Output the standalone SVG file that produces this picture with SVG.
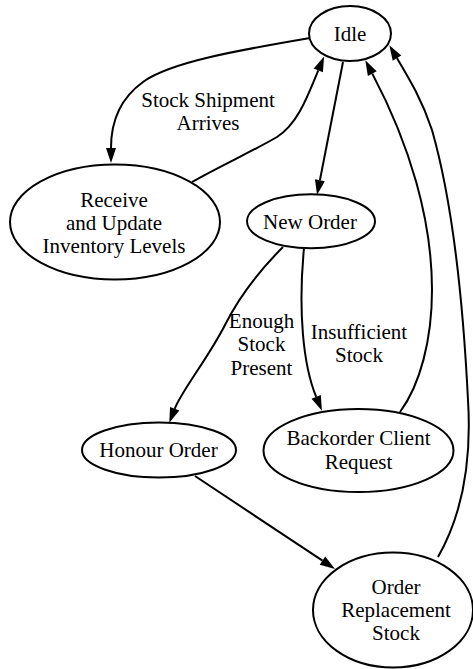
<svg xmlns="http://www.w3.org/2000/svg" width="473" height="669" viewBox="0 0 473 669">
  <defs>
    <marker id="arrow" markerUnits="userSpaceOnUse" markerWidth="16" markerHeight="12" refX="0" refY="5.5" orient="auto" overflow="visible">
      <path d="M0,0.5 L15,5.5 L0,10.5 Z" fill="#000"/>
    </marker>
    <style>
      .node ellipse { fill: #fff; stroke: #000; stroke-width: 2; }
      text { font-family: 'Liberation Serif', 'Times New Roman', serif; font-size: 21px; fill: #000; text-anchor: middle; }
      .edges path { fill: none; stroke: #000; stroke-width: 2; marker-end: url(#arrow); }
    </style>
  </defs>
  <rect width="473" height="669" fill="#fff"/>

  <g class="edges" id="edges">
    <!-- Idle -> Receive -->
    <path d="M310,38 C240,50 170,62 143,82 C118,100 111,125 111,148"/>
    <!-- Receive -> Idle -->
    <path d="M192,182 C220,166 255,150 277,137 C298,124 308,95 318.3,70.4"/>
    <!-- Idle -> New Order -->
    <path d="M343,62 L319.9,180.3"/>
    <!-- New Order -> Honour Order -->
    <path d="M283,247 C262,268 240,295 225,325 C207,360 182,390 174.7,408.8"/>
    <!-- New Order -> Backorder Client Request -->
    <path d="M304,248 C298,310 303,365 316.2,396.9"/>
    <!-- Backorder Client Request -> Idle -->
    <path d="M400,412 C420,385 432,340 432,290 C432,220 410,145 372.3,73.6"/>
    <!-- Honour Order -> Order Replacement Stock -->
    <path d="M195,476 L322.5,560.7"/>
    <!-- Order Replacement Stock -> Idle -->
    <path d="M438,557 C462,515 472,465 468,400 C463,300 452,200 432,130 C422,100 410,80 397,58.1"/>
  </g>

  <g id="edge-labels" font-family="Liberation Serif, serif">
    <text x="208" y="107">Stock Shipment</text>
    <text x="208" y="130">Arrives</text>
    <text x="261.5" y="328">Enough</text>
    <text x="261.5" y="351">Stock</text>
    <text x="261.5" y="375">Present</text>
    <text x="359" y="339">Insufficient</text>
    <text x="359" y="362">Stock</text>
  </g>

  <g class="node" id="idle" font-family="Liberation Serif, serif">
    <ellipse cx="350" cy="33.5" rx="41" ry="27.5"/>
    <text x="350" y="41">Idle</text>
  </g>
  <g class="node" id="receive" font-family="Liberation Serif, serif">
    <ellipse cx="115" cy="222" rx="105" ry="57.5"/>
    <text x="114" y="207">Receive</text>
    <text x="114" y="230">and Update</text>
    <text x="114" y="253">Inventory Levels</text>
  </g>
  <g class="node" id="new-order" font-family="Liberation Serif, serif">
    <ellipse cx="311" cy="221.3" rx="64" ry="27"/>
    <text x="310" y="229">New Order</text>
  </g>
  <g class="node" id="honour-order" font-family="Liberation Serif, serif">
    <ellipse cx="159" cy="450" rx="77" ry="27.5"/>
    <text x="158.5" y="457">Honour Order</text>
  </g>
  <g class="node" id="backorder" font-family="Liberation Serif, serif">
    <ellipse cx="358.5" cy="450.5" rx="95" ry="41.5"/>
    <text x="358.5" y="445">Backorder Client</text>
    <text x="358.5" y="469">Request</text>
  </g>
  <g class="node" id="order-replacement" font-family="Liberation Serif, serif">
    <ellipse cx="393" cy="610" rx="80" ry="57.5"/>
    <text x="396" y="594">Order</text>
    <text x="396" y="617">Replacement</text>
    <text x="396" y="640">Stock</text>
  </g>
</svg>
